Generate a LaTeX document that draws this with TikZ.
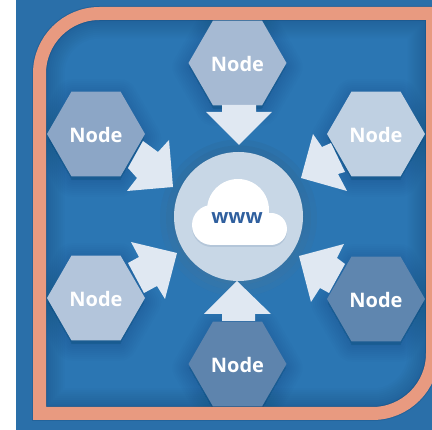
\documentclass[tikz,border=0pt]{standalone}
\usepackage{fontspec}
\setmainfont{Open Sans}
\usetikzlibrary{shapes.geometric}
\definecolor{bgblue}{HTML}{2B76B3}
\definecolor{outblue}{HTML}{2A6FA9}
\definecolor{shade}{HTML}{12406F}
\definecolor{framec}{HTML}{E89A80}
\definecolor{arrowc}{HTML}{E0E8F2}
\definecolor{hubc}{HTML}{C8D7E6}
\definecolor{cloudsh}{HTML}{B4C6D9}
\definecolor{wwwc}{HTML}{2F5F9E}
\tikzset{
  hexnode/.style={regular polygon,regular polygon sides=6,minimum size=98pt,inner sep=0pt,outer sep=0pt,
    text=white,font=\fontsize{20}{24}\selectfont\bfseries,text height=17.5pt,text depth=0pt},
  blockarrow/.style={fill=arrowc,draw=none},
  frameline/.style={draw=framec,line width=13pt}
}
\newcommand{\framepath}{(39.5,413.5) [rounded corners=60pt] -- (39.5,13.5) [sharp corners] -- (432.5,13.5) [rounded corners=60pt] -- (432.5,413.5) [sharp corners] -- cycle}
\newcommand{\softhex}[2]{% centre x, y
  \foreach \w in {2,6,...,34}{
    \node[regular polygon,regular polygon sides=6,minimum size=96pt,inner sep=0pt,draw=shade,fill=shade,opacity=0.028,line width=\w pt,line join=round] at (#1,#2+4) {};
  }}
\newcommand{\cloudshape}[2]{% colour, vertical offset
  \fill[#1] (212,225+#2) circle (20);
  \fill[#1] (238,210+#2) circle (31);
  \fill[#1] (271,229+#2) circle (16);
  \fill[#1] (212,225+#2) rectangle (271,245+#2);
}
\begin{document}
\begin{tikzpicture}[x=1pt,y=-1pt]
\useasboundingbox (0,0) rectangle (432,430);
\clip (0,0) rectangle (432,430);
\fill[white] (0,0) rectangle (432,430);
\fill[outblue] (16,0) rectangle (432,430);
% inside of frame with inner shade
\begin{scope}
  \clip \framepath;
  \fill[bgblue] (16,0) rectangle (432,430);
  \foreach \w in {14,18,...,50}{
    \draw[draw=shade,opacity=0.035,line width=\w pt] \framepath;
  }
  \softhex{96}{134}
  \softhex{237.5}{63}
  \softhex{376}{134}
  \softhex{96}{298}
  \softhex{237.5}{364}
  \softhex{376}{299}
  \foreach \w in {2,8,14}{
    \fill[shade,opacity=0.03] (238.5,218) circle (64.5+\w);
  }
\end{scope}
\draw[draw=shade,opacity=0.25,line width=15pt] \framepath;
\draw[frameline] \framepath;
% nodes
\node[hexnode,fill={rgb,255:red,140;green,166;blue,198}] (nw) at (96,134) {Node};
\node[hexnode,fill={rgb,255:red,166;green,186;blue,211}] (n) at (237.5,63) {Node};
\node[hexnode,fill={rgb,255:red,191;green,208;blue,226}] (ne) at (376,134) {Node};
\node[hexnode,fill={rgb,255:red,179;green,197;blue,219}] (sw) at (96,298) {Node};
\node[hexnode,fill={rgb,255:red,94;green,132;blue,173}] (s) at (237.5,364) {Node};
\node[hexnode,fill={rgb,255:red,95;green,134;blue,175}] (se) at (376,299) {Node};
% hub
\node[circle,fill=hubc,minimum size=129pt,inner sep=0pt] (hub) at (238.5,216.5) {};
\cloudshape{cloudsh}{2}
\cloudshape{white}{0}
\node[text=wwwc,font=\fontsize{20}{24}\selectfont\bfseries,inner sep=0pt] (www) at (237,218.5) {www};
% arrows
\fill[blockarrow] (222,105) -- (222,112) -- (206,112) -- (239,145) -- (272,112) -- (256,112) -- (256,105) -- cycle;
\fill[blockarrow] (222,321) -- (222,314) -- (204,314) -- (237,281) -- (271,314) -- (255,314) -- (255,321) -- cycle;
\fill[blockarrow] (143,141) -- (158,152) -- (169,140) -- (173,187) -- (127,191) -- (137,178) -- (128,168) -- cycle;
\fill[blockarrow] (331,143) -- (322,147) -- (313,134) -- (301,178) -- (347,191) -- (338,174) -- (345,172) -- cycle;
\fill[blockarrow] (128,263) -- (139,257) -- (131,242) -- (177,253) -- (165,299) -- (157,286) -- (144,293) -- cycle;
\fill[blockarrow] (345,264) -- (337,258) -- (344,244) -- (299,256) -- (311,302) -- (320,288) -- (329,293) -- cycle;
\end{tikzpicture}
\end{document}
